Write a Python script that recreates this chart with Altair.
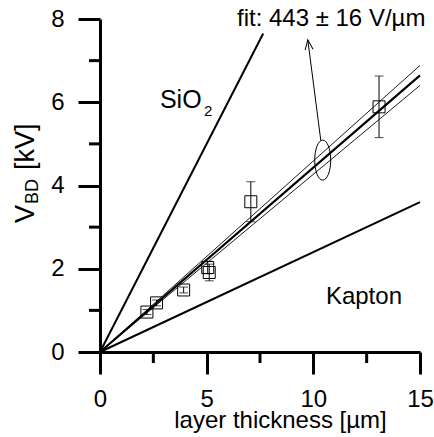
import altair as alt
import pandas as pd

# measured breakdown voltages
thickness = [2.2, 2.65, 3.92, 5.05, 5.12, 7.07, 13.08]      # µm
vbd = [0.96, 1.18, 1.49, 2.03, 1.91, 3.61, 5.89]             # kV
vbd_err = [0.06, 0.07, 0.07, 0.15, 0.2, 0.48, 0.74]          # kV

# fit lines (slope in kV/µm): fit and +/- error
fit_slopes = [0.443, 0.459, 0.427]
fit_width = [2.2, 0.9, 0.9]
x_max = 15.0

# reference material lines (end points)
ref_names = ["SiO2", "Kapton"]
ref_x_end = [7.65, 15.0]
ref_y_end = [7.65, 3.6]

x_major = [0, 5, 10, 15]
x_minor = [2.5, 7.5, 12.5]
y_major = [0, 2, 4, 6, 8]
y_minor = [1, 3, 5, 7]

FONT = "Liberation Sans"
H = 333

pts = pd.DataFrame({"t": thickness, "v": vbd, "e": vbd_err})
pts["lo"] = pts["v"] - pts["e"]
pts["hi"] = pts["v"] + pts["e"]

fit_rows = []
for i, (s, w) in enumerate(zip(fit_slopes, fit_width)):
    fit_rows.append({"id": i, "x": 0.0, "y": 0.0, "w": w})
    fit_rows.append({"id": i, "x": x_max, "y": s * x_max, "w": w})
fits = pd.DataFrame(fit_rows)

ref_rows = []
for n, xe, ye in zip(ref_names, ref_x_end, ref_y_end):
    ref_rows.append({"id": n, "x": 0.0, "y": 0.0})
    ref_rows.append({"id": n, "x": xe, "y": ye})
refs = pd.DataFrame(ref_rows)

xscale = alt.Scale(domain=[0, 15], nice=False, zero=False)
yscale = alt.Scale(domain=[0, 8], nice=False, zero=False)

xaxis = alt.Axis(
    values=x_major, tickSize=22,
    tickWidth=3, domainWidth=3, tickColor="black", domainColor="black",
    labelFont=FONT, labelFontSize=24, labelColor="black", labelPadding=13,
    labelFlush=False, labelOverlap=False, grid=False,
    title="layer thickness [µm]", titleFont=FONT, titleFontSize=24,
    titleFontWeight="normal", titleColor="black",
    titleX=180, titleY=75, titleBaseline="alphabetic", titleAlign="center",
)
yaxis = alt.Axis(
    values=y_major, tickSize=22,
    tickWidth=3, domainWidth=3, tickColor="black", domainColor="black",
    labelFont=FONT, labelFontSize=24, labelColor="black", labelPadding=14,
    labelFlush=False, labelOverlap=False, grid=False, title=None,
)


def X(field):
    return alt.X(field, type="quantitative", scale=xscale, axis=xaxis)


def Y(field):
    return alt.Y(field, type="quantitative", scale=yscale, axis=yaxis)


# minor ticks
xminor_layer = alt.Chart(pd.DataFrame({"v": x_minor})).mark_rule(
    color="black", strokeWidth=3
).encode(x=X("v"), y=alt.value(H), y2=alt.value(H + 11))
yminor_layer = alt.Chart(pd.DataFrame({"v": y_minor})).mark_rule(
    color="black", strokeWidth=3
).encode(y=Y("v"), x=alt.value(0), x2=alt.value(-11))

fit_layer = alt.Chart(fits).mark_line(color="black").encode(
    x=X("x"), y=Y("y"), detail="id:N",
    strokeWidth=alt.StrokeWidth("w:Q", scale=None),
)
ref_layer = alt.Chart(refs).mark_line(color="black", strokeWidth=2).encode(
    x=X("x"), y=Y("y"), detail="id:N"
)
err_layer = alt.Chart(pts).mark_rule(color="black", strokeWidth=1).encode(
    x=X("t"), y=Y("lo"), y2="hi"
)
cap_lo = alt.Chart(pts).mark_tick(color="black", orient="horizontal", size=9, thickness=1).encode(
    x=X("t"), y=Y("lo")
)
cap_hi = alt.Chart(pts).mark_tick(color="black", orient="horizontal", size=9, thickness=1).encode(
    x=X("t"), y=Y("hi")
)
pt_layer = alt.Chart(pts).mark_point(
    shape="square", size=144, filled=False, color="black", strokeWidth=1, opacity=1
).encode(x=X("t"), y=Y("v"))

# ellipse marking the fit lines and arrow to the fit label
ell = pd.DataFrame({"x": [10.44], "y": [4.61]})
ELLIPSE = "M 0,-1 A 0.4,1 0 1,1 0,1 A 0.4,1 0 1,1 0,-1 Z"
ell_layer = alt.Chart(ell).mark_point(
    shape=ELLIPSE, size=1600, filled=False, color="black", strokeWidth=1, opacity=1
).encode(x=X("x"), y=Y("y"))

arrow = pd.DataFrame({"x": [10.35], "y": [5.08], "x2": [9.74], "y2": [7.5]})
arrow_layer = alt.Chart(arrow).mark_rule(color="black", strokeWidth=1).encode(
    x=X("x"), y=Y("y"), x2="x2", y2="y2"
)
head_layer = alt.Chart(arrow).mark_point(
    shape="M -0.4,1 L 0,0 L 0.4,1", size=400, filled=False, color="black",
    strokeWidth=1, opacity=1, angle=352.6
).encode(x=X("x2"), y=Y("y2"))

labels = pd.DataFrame({
    "x": [6.42, 10.59],
    "y": [7.83, 1.16],
    "text": ["fit: 443 ± 16 V/µm", "Kapton"],
})
label_layer = alt.Chart(labels).mark_text(
    font=FONT, fontSize=24, align="left", baseline="alphabetic", color="black"
).encode(x=X("x"), y=Y("y"), text="text:N")

sio = pd.DataFrame({"x": [2.81], "y": [5.87], "text": ["SiO"]})
sio_layer = alt.Chart(sio).mark_text(
    font=FONT, fontSize=25, align="left", baseline="alphabetic", color="black"
).encode(x=X("x"), y=Y("y"), text="text:N")

sub = pd.DataFrame({"x": [4.88], "y": [5.66], "text": ["2"]})
sub_layer = alt.Chart(sub).mark_text(
    font=FONT, fontSize=15, align="left", baseline="alphabetic", color="black"
).encode(x=X("x"), y=Y("y"), text="text:N")

# y-axis title with subscript (pixel positions relative to plot area)
ytitle = pd.DataFrame({"a": [0]})
yt_v = alt.Chart(ytitle).mark_text(
    font=FONT, fontSize=27, align="left", baseline="alphabetic", angle=270,
    color="black", text="V"
).encode(x=alt.value(-66), y=alt.value(204))
yt_bd = alt.Chart(ytitle).mark_text(
    font=FONT, fontSize=18, align="left", baseline="alphabetic", angle=270,
    color="black", text="BD"
).encode(x=alt.value(-62), y=alt.value(185))
yt_kv = alt.Chart(ytitle).mark_text(
    font=FONT, fontSize=27, align="left", baseline="alphabetic", angle=270,
    color="black", text="[kV]"
).encode(x=alt.value(-66), y=alt.value(151))

chart = alt.layer(
    xminor_layer, yminor_layer,
    ref_layer, fit_layer, err_layer, cap_lo, cap_hi, pt_layer,
    ell_layer, arrow_layer, head_layer, label_layer, sio_layer, sub_layer,
    yt_v, yt_bd, yt_kv,
).properties(
    width=320, height=H,
    autosize=alt.AutoSizeParams(type="none"),
    padding={"left": 100, "top": 19, "right": 14, "bottom": 85},
    background="white",
).configure_view(stroke=None)

chart.save("out.html", embed_options={"renderer": "svg", "actions": False})
